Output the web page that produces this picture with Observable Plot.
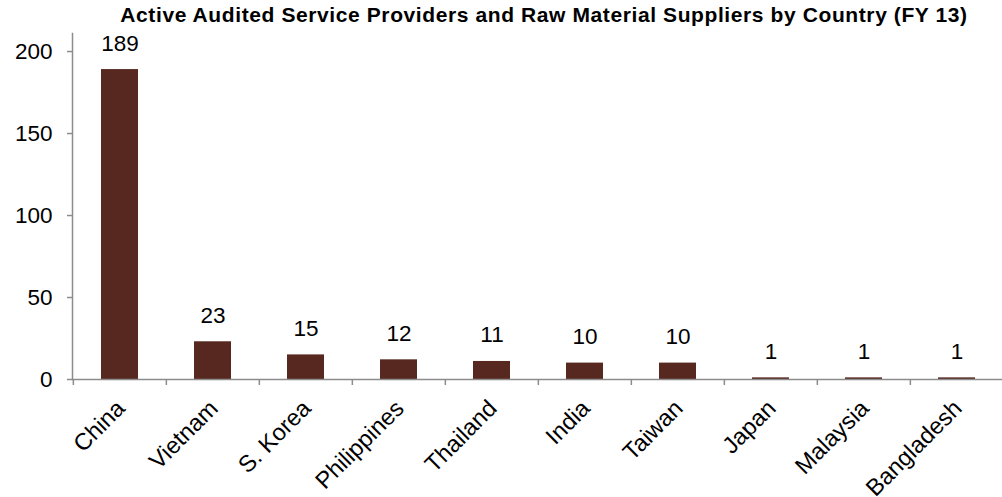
<!DOCTYPE html>
<html>
<head>
<meta charset="utf-8">
<script src="https://cdn.jsdelivr.net/npm/d3@7"></script>
<script src="https://cdn.jsdelivr.net/npm/@observablehq/plot@0.6"></script>
<style>
  html, body { margin: 0; padding: 0; background: #fff; }
  #wrap { position: relative; width: 1002px; height: 497px; overflow: hidden; }
  #title { position: absolute; left: 0; top: 3px; width: 1088px; text-align: center;
    font-family: "Liberation Sans", Arial, sans-serif; font-weight: bold; font-size: 21px; letter-spacing: 0.6px; color: #000; white-space: nowrap; }
  svg { position: absolute; left: 0; top: 0; }
</style>
</head>
<body>
<div id="wrap">
  <div id="title">Active Audited Service Providers and Raw Material Suppliers by Country (FY 13)</div>
</div>
<script>
const countries = ["China", "Vietnam", "S. Korea", "Philippines", "Thailand", "India", "Taiwan", "Japan", "Malaysia", "Bangladesh"];
const counts = [189, 23, 15, 12, 11, 10, 10, 1, 1, 1];
const yTicks = [0, 50, 100, 150, 200];

const data = countries.map((c, i) => ({country: c, value: counts[i]}));
const step = (1005 - 72) / countries.length;
const font = "'Liberation Sans', Arial, sans-serif";

const chart = Plot.plot({
  width: 1002,
  height: 497,
  marginLeft: 72,
  marginRight: 0,
  marginTop: 33,
  marginBottom: 118,
  style: {fontFamily: font, fontSize: "22.5px", color: "#000", background: "transparent", overflow: "visible"},
  x: {domain: countries, range: [72, 1005], paddingInner: 0.6, paddingOuter: 0.3, label: null},
  y: {domain: [0, 211], range: [379, 33], label: null},
  marks: [
    Plot.barY(data, {x: "country", y: "value", fill: "#56281F"}),
    Plot.frame({anchor: "left", stroke: "#8c8c8c", strokeWidth: 1.5}),
    Plot.ruleY([0], {stroke: "#8c8c8c", strokeWidth: 1.5}),
    Plot.axisY({ticks: yTicks, tickSize: 5, tickPadding: 15, stroke: "#8c8c8c", strokeWidth: 1.5, fontSize: 22.5, label: null, color: "#000"}),
    Plot.axisX({tickSize: 6, tickFormat: () => "", dx: -step / 2, stroke: "#8c8c8c", strokeWidth: 1.5, label: null}),
    Plot.axisX({tickSize: 0, tickPadding: 8, tickRotate: -45, fontSize: 23.5, dx: 1, dy: 17, label: null, color: "#000"}),
    Plot.text(data, {x: "country", y: "value", text: d => String(d.value), lineAnchor: "bottom", dy: -19, fontSize: 22.5, fill: "#000"})
  ]
});
document.getElementById("wrap").appendChild(chart);
</script>
</body>
</html>
